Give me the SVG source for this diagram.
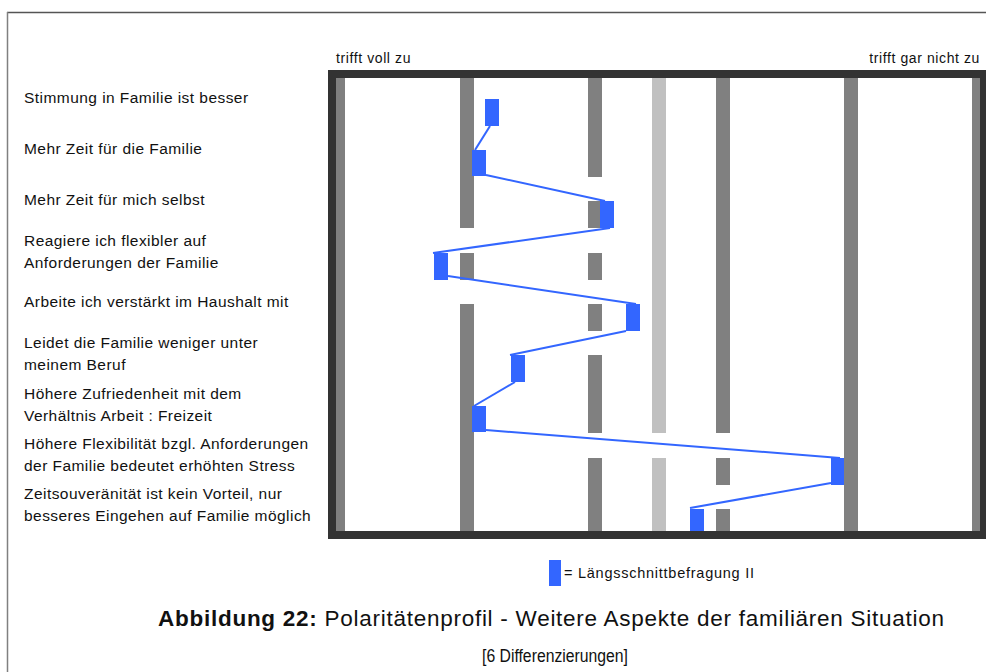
<svg xmlns="http://www.w3.org/2000/svg" width="986" height="672" viewBox="0 0 986 672">
<style>
.lbl{font-family:"Liberation Sans",Arial,sans-serif;font-size:15.5px;letter-spacing:0.45px;fill:#111}
.top{font-family:"Liberation Sans",Arial,sans-serif;font-size:14px;letter-spacing:0.6px;fill:#111}
.bar{fill:#808080}
.barl{fill:#c0c0c0}
.mk{fill:#3366ff}
.con line{stroke:#3366ff;stroke-width:2}
</style>
<rect width="986" height="672" fill="#fff"/>
<g id="page-border">
<line x1="7" y1="12.5" x2="986" y2="12.5" stroke="#555" stroke-width="1.5"/>
<line x1="7.5" y1="12" x2="7.5" y2="672" stroke="#808080" stroke-width="1.5"/>
</g>
<g id="scale-labels">
<text class="top" x="336" y="63">trifft voll zu</text>
<text class="top" x="980" y="63" text-anchor="end">trifft gar nicht zu</text>
</g>
<g id="item-labels">
<text class="lbl" x="24" y="103">Stimmung in Familie ist besser</text>
<text class="lbl" x="24" y="154">Mehr Zeit für die Familie</text>
<text class="lbl" x="24" y="205">Mehr Zeit für mich selbst</text>
<text class="lbl" x="24" y="246">Reagiere ich flexibler auf</text>
<text class="lbl" x="24" y="268">Anforderungen der Familie</text>
<text class="lbl" x="24" y="307">Arbeite ich verstärkt im Haushalt mit</text>
<text class="lbl" x="24" y="348">Leidet die Familie weniger unter</text>
<text class="lbl" x="24" y="370">meinem Beruf</text>
<text class="lbl" x="24" y="399">Höhere Zufriedenheit mit dem</text>
<text class="lbl" x="24" y="421">Verhältnis Arbeit : Freizeit</text>
<text class="lbl" x="24" y="449">Höhere Flexibilität bzgl. Anforderungen</text>
<text class="lbl" x="24" y="471">der Familie bedeutet erhöhten Stress</text>
<text class="lbl" x="24" y="499">Zeitsouveränität ist kein Vorteil, nur</text>
<text class="lbl" x="24" y="521">besseres Eingehen auf Familie möglich</text>
</g>
<g id="chart">
<rect x="332" y="74" width="652" height="461" fill="#fff"/>
<g id="bars">
<rect class="bar" x="331" y="78" width="14" height="453"/>
<rect class="bar" x="460" y="78" width="14" height="150"/>
<rect class="bar" x="460" y="253" width="14" height="27"/>
<rect class="bar" x="460" y="304" width="14" height="227"/>
<rect class="bar" x="588" y="78" width="14" height="99"/>
<rect class="bar" x="588" y="201" width="14" height="27"/>
<rect class="bar" x="588" y="253" width="14" height="27"/>
<rect class="bar" x="588" y="304" width="14" height="27"/>
<rect class="bar" x="588" y="355" width="14" height="78"/>
<rect class="bar" x="588" y="458" width="14" height="73"/>
<rect class="barl" x="652" y="78" width="14" height="355"/>
<rect class="barl" x="652" y="458" width="14" height="73"/>
<rect class="bar" x="716" y="78" width="14" height="355"/>
<rect class="bar" x="716" y="458" width="14" height="27"/>
<rect class="bar" x="716" y="509" width="14" height="22"/>
<rect class="bar" x="844" y="78" width="14" height="453"/>
<rect class="bar" x="972" y="78" width="14" height="453"/>
</g>
<g id="connectors" class="con">
<line x1="490" y1="126" x2="475" y2="150"/>
<line x1="486" y1="175" x2="605" y2="201"/>
<line x1="610" y1="228" x2="433" y2="253"/>
<line x1="448" y1="276" x2="636" y2="304"/>
<line x1="626" y1="331" x2="510" y2="355"/>
<line x1="515" y1="382" x2="474" y2="406"/>
<line x1="486" y1="430" x2="840" y2="458"/>
<line x1="831" y1="483" x2="690" y2="508"/>
</g>
<g id="markers">
<rect id="m1" class="mk" x="485" y="99" width="14" height="27"/>
<rect id="m2" class="mk" x="472" y="150" width="14" height="26"/>
<rect id="m3" class="mk" x="600" y="201" width="14" height="27"/>
<rect id="m4" class="mk" x="434" y="253" width="14" height="27"/>
<rect id="m5" class="mk" x="626" y="304" width="14" height="27"/>
<rect id="m6" class="mk" x="511" y="355" width="14" height="27"/>
<rect id="m7" class="mk" x="472" y="406" width="14" height="26"/>
<rect id="m8" class="mk" x="831" y="458" width="13" height="27"/>
<rect id="m9" class="mk" x="690" y="509" width="14" height="22"/>
</g>
<rect id="frame" x="332" y="74" width="652" height="461" fill="none" stroke="#333" stroke-width="8"/>
</g>
<g id="legend">
<rect class="mk" x="549" y="560" width="12" height="26"/>
<text x="564" y="578" font-family="Liberation Sans, Arial, sans-serif" font-size="14.5" fill="#111" textLength="190" lengthAdjust="spacing">= Längsschnittbefragung II</text>
</g>
<g id="caption">
<text x="158" y="626" font-family="Liberation Sans, Arial, sans-serif" font-size="22.5" fill="#111" textLength="786" lengthAdjust="spacing"><tspan font-weight="bold">Abbildung 22:</tspan>  Polaritätenprofil - Weitere Aspekte der familiären Situation</text>
<text x="555" y="662" font-family="Liberation Sans, Arial, sans-serif" font-size="17.5" fill="#111" text-anchor="middle" textLength="146" lengthAdjust="spacingAndGlyphs">[6 Differenzierungen]</text>
</g>
</svg>
